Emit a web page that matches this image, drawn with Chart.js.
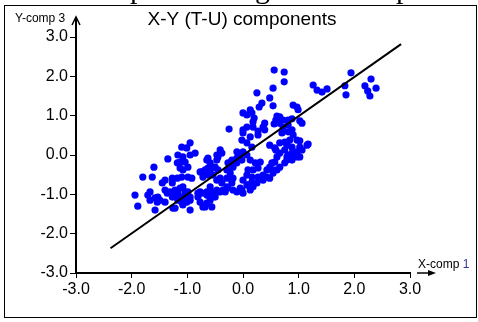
<!DOCTYPE html>
<html>
<head>
<meta charset="utf-8">
<script src="https://cdn.jsdelivr.net/npm/chart.js@4.4.0/dist/chart.umd.min.js"></script>
<style>
  html, body { margin: 0; padding: 0; background: #fff; }
  canvas { display: block; }
</style>
</head>
<body>
<canvas id="chart" width="478" height="322"></canvas>
<script>
// component scores
const xComp = [
  0.56, 0.74, 0.74, 0.54, 0.25, 0.48, 0.34, 0.29, 0.54, 0.90,
  0.97, 0.99, 1.26, 1.33, 1.42, 1.51, 1.94, 1.83, 1.85, 2.19,
  2.24, 2.28, 2.30, 2.39, 1.02, 1.17, 1.06, 1.02, 1.02, 0.00,
  0.07, 0.13, 0.16, 0.20, 0.18, 0.61, 0.66, 0.59, 0.56, 0.66,
  0.72, 0.81, 0.88, 0.39, 0.36, -0.25, 0.07, 0.00, 0.18, 0.27,
  0.39, 0.27, 0.13, 0.00, 0.81, 0.88, 0.90, 0.97, 0.84, 0.79,
  0.88, 0.72, 0.70, 0.81, 1.02, 0.75, 0.66, 0.57, 0.66, 0.61,
  0.79, 0.88, 0.97, 1.06, 1.15, 0.75, 0.81, 0.88, 0.79, 0.48,
  0.59, -0.02, 0.07, 0.16, 0.00, -0.05, 0.07, -0.41, -0.38, -0.45,
  -0.47, -0.65, -0.59, -0.54, -0.63, -0.68, -0.74, -0.20, -0.27, -0.18,
  -0.11, 0.13, 0.22, 0.31, 0.27, 0.18, 0.09, 0.07, 0.16, 0.27,
  0.36, 0.43, 0.48, 0.52, 0.57, 0.00, 0.09, 0.18, 0.16, 0.43,
  0.48, 0.54, 0.61, -0.18, -0.20, -0.29, -0.36, -0.41, -0.47, -0.11,
  -0.02, 0.00, -0.59, -0.54, -0.65, -0.59, -0.65, -0.68, -0.56, -0.95,
  -1.01, -1.10, -1.17, -1.08, -1.13, -1.04, -0.99, -1.18, -1.13, -1.08,
  -0.95, -0.86, -1.35, -1.60, -1.80, -1.63, -1.45, -1.40, -1.27, -1.27,
  -1.18, -1.10, -0.99, -0.92, -0.77, -1.67, -1.71, -1.67, -1.58, -1.53,
  -1.49, -1.54, -1.40, -1.36, -1.31, -1.22, -1.17, -1.22, -1.27, -1.13,
  -1.08, -1.04, -0.99, -1.10, -1.04, -0.95, -0.95, -1.01, -1.10, -1.17,
  -1.40, -1.22, -1.08, -0.95, -1.94, -1.89, -1.58, -1.26, -0.81, -0.77,
  -0.72, -0.59, -0.50, -0.45, -0.54, -0.63, -0.72, -0.47, -0.63, -0.20,
  -0.29, -0.23, -0.11, -0.11, -0.02, -0.29, -0.41, -0.47, -0.38, -0.27,
  -0.18, -0.32, -0.45, -0.50, -0.59, -0.65, -0.74, -0.81, -0.77, -0.05,
  0.07, 0.13, 0.25, 0.36, 0.54, 0.66, 0.75, 0.88, 0.97
];
const yComp = [
  2.16, 2.11, 1.86, 1.70, 1.58, 1.45, 1.32, 1.22, 1.25, 1.27,
  1.22, 1.15, 1.78, 1.65, 1.60, 1.68, 2.09, 1.76, 1.53, 1.76,
  1.63, 1.50, 1.93, 1.70, 0.87, 0.28, 0.81, 0.36, -0.05, 1.07,
  1.02, 1.15, 1.07, 0.94, 0.84, 0.99, 0.97, 0.89, 0.79, 0.81,
  0.89, 0.89, 0.92, 0.81, 0.71, 0.66, 0.71, 0.64, 0.71, 0.61,
  0.64, 0.51, 0.46, 0.56, 0.76, 0.64, 0.51, 0.38, 0.38, 0.25,
  0.20, 0.71, 0.56, 0.59, 0.20, 0.33, 0.31, 0.18, 0.05, -0.05,
  -0.05, 0.05, 0.08, 0.13, 0.25, 0.13, 0.00, -0.08, -0.13, 0.25,
  0.13, 0.38, 0.31, 0.20, 0.08, -0.05, 0.00, 0.13, 0.05, -0.05,
  -0.13, -0.13, -0.20, -0.31, -0.33, -0.38, -0.43, -0.13, -0.20, -0.31,
  -0.20, -0.13, -0.20, -0.18, -0.33, -0.38, -0.38, -0.51, -0.56, -0.56,
  -0.51, -0.38, -0.31, -0.20, -0.18, -0.64, -0.76, -0.81, -0.69, -0.56,
  -0.59, -0.46, -0.38, -0.59, -0.71, -0.81, -0.89, -0.94, -0.89, -0.94,
  -0.89, -0.97, -0.81, -0.94, -1.02, -1.15, -1.22, -1.32, -1.32, 0.31,
  0.18, 0.20, 0.00, -0.05, -0.18, -0.18, -0.31, -0.20, -0.33, -0.38,
  0.00, 0.05, -0.10, -0.31, -0.56, -0.56, -0.71, -0.64, -0.59, -0.71,
  -0.59, -0.56, -0.56, -0.59, -0.43, -0.94, -1.02, -1.15, -1.09, -1.07,
  -1.15, -1.20, -0.89, -0.97, -0.94, -0.89, -0.97, -1.02, -1.07, -0.84,
  -0.81, -0.94, -0.94, -1.07, -1.09, -1.15, -1.07, -1.20, -1.20, -1.15,
  -1.20, -1.35, -1.27, -1.40, -1.02, -1.30, -1.40, -1.35, -0.97, -0.94,
  -1.32, -0.43, -0.31, -0.38, -0.51, -0.51, -0.56, 0.00, -0.08, -0.25,
  -0.38, -0.46, 0.08, -0.08, -0.13, -0.59, -0.59, -0.64, -0.71, -0.84,
  -0.89, -0.94, -0.94, -1.07, -1.07, -0.94, -0.97, -1.07, -1.20, -0.84,
  -0.76, -0.89, -0.71, -0.64, -0.38, -0.31, -0.20, -0.13, -0.05
];

// fitted line end points
const lineX = [-2.38, 2.84];
const lineY = [-2.37, 2.82];

const tickValues = [-3, -2, -1, 0, 1, 2, 3];

const titleText = "X-Y (T-U) components";
const xLabel = "X-comp ";
const xLabelNum = "1";
const yLabel = "Y-comp 3";

const sans = "'Liberation Sans', Arial, sans-serif";

const decorations = {
  id: "decorations",
  afterDraw(chart) {
    const { ctx, chartArea: { left, right, top, bottom } } = chart;
    ctx.save();
    ctx.strokeStyle = "#000";
    ctx.fillStyle = "#000";

    // page text cut off above the frame
    ctx.font = "30px 'Liberation Serif', serif";
    ctx.textBaseline = "alphabetic";
    ctx.textAlign = "left";
    ctx.fillText("p", 130, -2);
    ctx.fillText("g", 255, -2);
    ctx.fillText("p", 396, -2);

    // frame
    ctx.lineWidth = 1;
    ctx.strokeRect(4.5, 5.5, 472, 312);

    // y axis above 3.0 and arrow
    ctx.lineWidth = 2;
    ctx.beginPath();
    ctx.moveTo(left, top);
    ctx.lineTo(left, top - 20);
    ctx.stroke();
    ctx.lineWidth = 1.5;
    ctx.beginPath();
    ctx.moveTo(left - 4, top - 12);
    ctx.lineTo(left, top - 20);
    ctx.lineTo(left + 4, top - 12);
    ctx.stroke();

    // x arrow
    ctx.lineWidth = 1.5;
    ctx.beginPath();
    ctx.moveTo(right + 7, bottom);
    ctx.lineTo(right + 20, bottom);
    ctx.stroke();
    ctx.beginPath();
    ctx.moveTo(right + 26, bottom);
    ctx.lineTo(right + 18, bottom - 3);
    ctx.lineTo(right + 18, bottom + 3);
    ctx.closePath();
    ctx.fill();

    // title
    ctx.font = "19px " + sans;
    ctx.textAlign = "center";
    ctx.fillText(titleText, 242, 25);

    // axis labels
    ctx.font = "12px " + sans;
    ctx.textAlign = "left";
    ctx.fillText(yLabel, 15, 22);
    ctx.fillText(xLabel, 418, 268);
    const w = ctx.measureText(xLabel).width;
    ctx.fillStyle = "#333399";
    ctx.fillText(xLabelNum, 418 + w, 268);
    ctx.restore();
  },
};

const tickFont = { family: sans, size: 16 };

new Chart(document.getElementById("chart"), {
  type: "scatter",
  data: {
    datasets: [
      {
        label: "fit",
        data: lineX.map((x, i) => ({ x: x, y: lineY[i] })),
        showLine: true,
        borderColor: "#000",
        borderWidth: 2,
        pointRadius: 0,
        order: 0,
      },
      {
        label: "components",
        data: xComp.map((x, i) => ({ x: x, y: yComp[i] })),
        backgroundColor: "#0000ff",
        borderWidth: 0,
        pointRadius: 3.6,
        order: 1,
      },
    ],
  },
  options: {
    responsive: false,
    animation: false,
    layout: { padding: { left: 4, top: 37, right: 68, bottom: 0 } },
    scales: {
      x: {
        type: "linear",
        min: -3,
        max: 3,
        afterBuildTicks: (s) => { s.ticks = tickValues.map((v) => ({ value: v })); },
        afterFit: (s) => { s.height = 49; },
        border: { display: true, color: "#000", width: 2 },
        grid: { display: true, drawOnChartArea: false, drawTicks: true, tickLength: 5, color: "#000", lineWidth: 1 },
        ticks: { color: "#000", font: tickFont, padding: 2, maxRotation: 0, autoSkip: false, callback: (v) => v.toFixed(1) },
      },
      y: {
        type: "linear",
        min: -3,
        max: 3,
        afterBuildTicks: (s) => { s.ticks = tickValues.map((v) => ({ value: v })); },
        afterFit: (s) => { s.width = 72; },
        border: { display: true, color: "#000", width: 2 },
        grid: { display: true, drawOnChartArea: false, drawTicks: true, tickLength: 6, color: "#000", lineWidth: 1 },
        ticks: { color: "#000", font: tickFont, padding: 2, autoSkip: false, callback: (v) => v.toFixed(1) },
      },
    },
    plugins: {
      legend: { display: false },
      tooltip: { enabled: false },
    },
  },
  plugins: [decorations],
});
</script>
</body>
</html>
